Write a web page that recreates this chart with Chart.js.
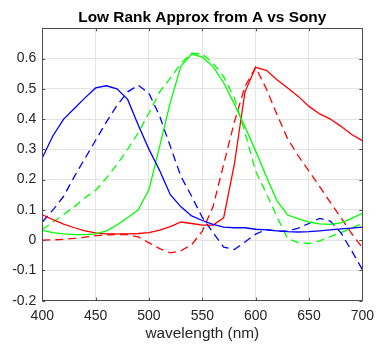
<!DOCTYPE html>
<html>
<head>
<meta charset="utf-8">
<script src="https://cdn.jsdelivr.net/npm/chart.js@4/dist/chart.umd.min.js"></script>
<style>
  html, body { margin: 0; padding: 0; background: #fff; }
  canvas { display: block; }
</style>
</head>
<body>
<canvas id="chart" width="381" height="344"></canvas>
<script>
// wavelengths (nm), sampled every 10 nm
var wavelengths = [400, 410, 420, 430, 440, 450, 460, 470, 480, 490, 500, 510, 520, 530, 540, 550,
  560, 570, 580, 590, 600, 610, 620, 630, 640, 650, 660, 670, 680, 690, 700];

// low rank approx (solid)
var redApprox = [0.084, 0.068, 0.053, 0.041, 0.031, 0.024, 0.021, 0.021, 0.021, 0.022, 0.025, 0.033, 0.045, 0.060, 0.055, 0.050,
  0.050, 0.074, 0.25, 0.49, 0.571, 0.561, 0.530, 0.503, 0.475, 0.442, 0.417, 0.400, 0.376, 0.349, 0.329];
var greenApprox = [0.032, 0.025, 0.021, 0.018, 0.018, 0.021, 0.031, 0.050, 0.075, 0.100, 0.167, 0.310, 0.455, 0.575, 0.615, 0.605,
  0.574, 0.520, 0.450, 0.375, 0.295, 0.210, 0.130, 0.083, 0.070, 0.060, 0.054, 0.052, 0.057, 0.072, 0.089];
var blueApprox = [0.272, 0.345, 0.400, 0.435, 0.470, 0.503, 0.510, 0.500, 0.465, 0.380, 0.300, 0.230, 0.150, 0.110, 0.080, 0.065,
  0.052, 0.043, 0.041, 0.041, 0.036, 0.034, 0.031, 0.028, 0.027, 0.028, 0.031, 0.034, 0.037, 0.040, 0.043];

// sony sensitivities (dashed)
var redSony = [0.000, 0.001, 0.003, 0.006, 0.010, 0.015, 0.017, 0.019, 0.018, 0.011, -0.009, -0.028, -0.042, -0.035, -0.015, 0.030,
  0.110, 0.250, 0.390, 0.508, 0.571, 0.500, 0.415, 0.335, 0.278, 0.228, 0.177, 0.125, 0.074, 0.022, -0.025];
var greenSony = [0.035, 0.060, 0.085, 0.110, 0.140, 0.165, 0.205, 0.250, 0.300, 0.355, 0.420, 0.490, 0.535, 0.585, 0.618, 0.615,
  0.585, 0.540, 0.470, 0.355, 0.228, 0.155, 0.077, 0.005, -0.008, -0.011, -0.002, 0.012, 0.025, 0.040, 0.055];
var blueSony = [0.060, 0.100, 0.145, 0.210, 0.270, 0.330, 0.390, 0.445, 0.490, 0.512, 0.485, 0.410, 0.310, 0.210, 0.145, 0.075,
  0.025, -0.023, -0.031, -0.006, 0.020, 0.035, 0.030, 0.030, 0.040, 0.055, 0.072, 0.063, 0.024, -0.035, -0.097];

var xTicks = [400, 450, 500, 550, 600, 650, 700];
var FONT = '"Liberation Sans", Arial, Helvetica, sans-serif';

//turn the arrays into x/y points
function pts(vals) {
  return wavelengths.map(function(w, i) { return {x: w, y: vals[i]}; });
}
function line(vals, color, dashed) {
  return {
    data: pts(vals),
    borderColor: color,
    borderWidth: 1.3,
    borderDash: dashed ? [8, 5] : [],
    pointRadius: 0,
    tension: 0,
    fill: false
  };
}

// matlab style box with inward ticks
var boxPlugin = {
  id: 'box',
  afterDraw: function(chart) {
    var c = chart.ctx, a = chart.chartArea;
    var xs = chart.scales.x, ys = chart.scales.y;
    c.save();
    c.strokeStyle = '#4d4d4d';
    c.lineWidth = 1;
    c.strokeRect(Math.round(a.left) + 0.5, Math.round(a.top) + 0.5,
      Math.round(a.right - a.left), Math.round(a.bottom - a.top));
    c.beginPath();
    xTicks.forEach(function(t) {
      var px = Math.round(xs.getPixelForValue(t)) + 0.5;
      c.moveTo(px, a.bottom); c.lineTo(px, a.bottom - 3);
      c.moveTo(px, a.top); c.lineTo(px, a.top + 3);
    });
    ys.ticks.forEach(function(t) {
      var py = Math.round(ys.getPixelForValue(t.value)) + 0.5;
      c.moveTo(a.left, py); c.lineTo(a.left + 3, py);
      c.moveTo(a.right, py); c.lineTo(a.right - 3, py);
    });
    c.stroke();
    c.restore();
  }
};

var ctx = document.getElementById('chart').getContext('2d');
var chart = new Chart(ctx, {
  type: 'line',
  data: {
    datasets: [
      line(blueApprox, '#0000ff', false),
      line(greenApprox, '#00ff00', false),
      line(redApprox, '#ff0000', false),
      line(blueSony, '#0000ff', true),
      line(greenSony, '#00ff00', true),
      line(redSony, '#ff0000', true)
    ]
  },
  options: {
    responsive: false,
    animation: false,
    devicePixelRatio: 1,
    layout: {padding: {left: 0, right: 11, top: 0, bottom: 0}},
    plugins: {
      legend: {display: false},
      tooltip: {enabled: false},
      title: {
        display: true,
        text: 'Low Rank Approx from A vs Sony',
        color: '#000',
        fullSize: false,
        font: {family: FONT, size: 15.4, weight: 'bold'},
        padding: {top: 9, bottom: 0.8}
      }
    },
    scales: {
      x: {
        type: 'linear',
        min: 400,
        max: 700,
        afterBuildTicks: function(s) { s.ticks = xTicks.map(function(v) { return {value: v}; }); },
        afterFit: function(s) { s.height = 43.3; },
        ticks: {color: '#262626', font: {family: FONT, size: 14}, padding: 7, maxRotation: 0},
        grid: {color: '#e4e4e4', drawTicks: false},
        border: {display: false},
        title: {
          display: true,
          text: 'wavelength (nm)',
          color: '#262626',
          font: {family: FONT, size: 15.4},
          padding: {top: 0, bottom: 1}
        }
      },
      y: {
        min: -0.2,
        max: 0.7,
        afterFit: function(s) { s.width = 42.3; },
        ticks: {
          stepSize: 0.1,
          color: '#262626',
          font: {family: FONT, size: 14},
          padding: 6,
          callback: function(v) {
            var r = Math.round(v * 10) / 10;
            if (r >= 0.7) return '';
            return String(r);
          }
        },
        grid: {color: '#e4e4e4', drawTicks: false},
        border: {display: false}
      }
    }
  },
  plugins: [boxPlugin]
});
</script>
</body>
</html>
